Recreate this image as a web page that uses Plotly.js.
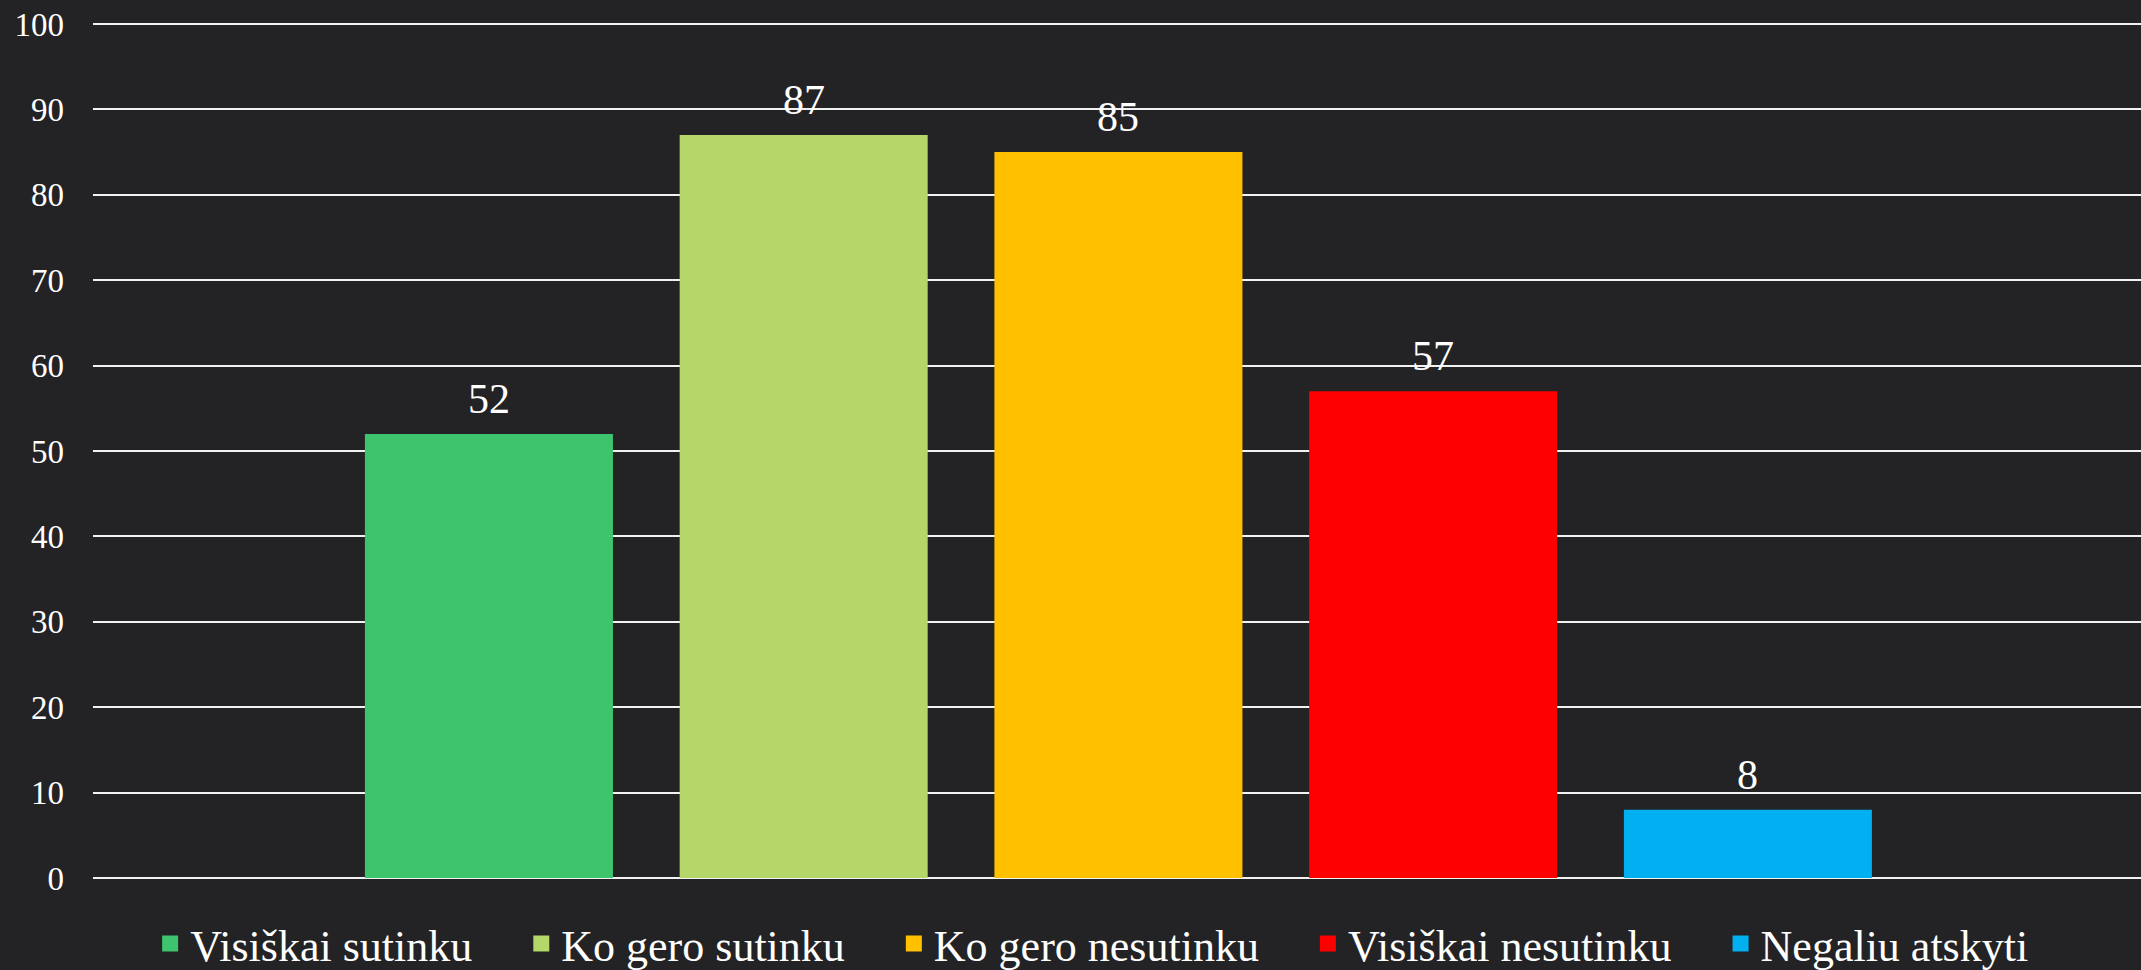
<!DOCTYPE html>
<html>
<head>
<meta charset="utf-8">
<script src="https://cdn.plot.ly/plotly-3.0.1.min.js"></script>
<style>
  html, body { margin: 0; padding: 0; background: #232325; }
  #chart { width: 2141px; height: 970px; }
</style>
</head>
<body>
<div id="chart"></div>
<script>
const categories = ["Visiškai sutinku", "Ko gero sutinku", "Ko gero nesutinku", "Visiškai nesutinku", "Negaliu atskyti"];
const values = [52, 87, 85, 57, 8];
const colors = ["#3FC46E", "#B5D668", "#FFC000", "#FF0000", "#00B0F0"];
const yTicks = [0, 10, 20, 30, 40, 50, 60, 70, 80, 90, 100];

const FONT = "'Liberation Serif', 'Times New Roman', serif";
const PAD = "\u00A0\u00A0\u00A0\u00A0"; // trailing spacing between legend entries

const barTraces = categories.map((c, i) => ({
  type: "bar",
  name: c,
  legendgroup: c,
  showlegend: false,
  x: [c],
  y: [values[i]],
  width: 0.788,
  marker: { color: colors[i] },
  hoverinfo: "skip"
}));

// legend entries with larger square swatches
const legendTraces = categories.map((c, i) => ({
  type: "scatter",
  mode: "markers",
  name: c + PAD,
  legendgroup: c,
  showlegend: true,
  x: [null],
  y: [null],
  marker: { color: colors[i], symbol: "square", size: 22 },
  hoverinfo: "skip"
}));

const annotations = categories.map((c, i) => ({
  x: c,
  y: values[i],
  xref: "x",
  yref: "y",
  text: String(values[i]),
  showarrow: false,
  yanchor: "bottom",
  yshift: 10,
  font: { family: FONT, size: 42, color: "#ffffff" }
}));

const layout = {
  width: 2141,
  height: 970,
  paper_bgcolor: "#232325",
  plot_bgcolor: "rgba(0,0,0,0)",
  margin: { l: 93, r: 0, t: 23, b: 92, pad: 0, autoexpand: false },
  barmode: "overlay",
  showlegend: true,
  legend: {
    orientation: "h",
    x: 0.0279,
    xanchor: "left",
    y: -0.077,
    yanchor: "middle",
    font: { family: FONT, size: 44, color: "#ffffff" },
    traceorder: "normal",
    itemclick: false,
    bgcolor: "rgba(0,0,0,0)"
  },
  xaxis: {
    type: "category",
    categoryarray: categories,
    range: [-1.258, 5.249],
    showticklabels: false,
    showgrid: false,
    zeroline: false,
    showline: false,
    ticks: ""
  },
  yaxis: {
    range: [0, 100.12],
    tickvals: yTicks,
    ticktext: yTicks.map(String),
    showgrid: true,
    gridcolor: "#f2f2f2",
    gridwidth: 2,
    zeroline: true,
    zerolinecolor: "#f2f2f2",
    zerolinewidth: 2,
    showline: false,
    ticks: "",
    ticklabelstandoff: 28,
    tickfont: { family: FONT, size: 33, color: "#ffffff" }
  },
  annotations: annotations
};

Plotly.newPlot("chart", barTraces.concat(legendTraces), layout, { staticPlot: true, displayModeBar: false });
</script>
</body>
</html>
